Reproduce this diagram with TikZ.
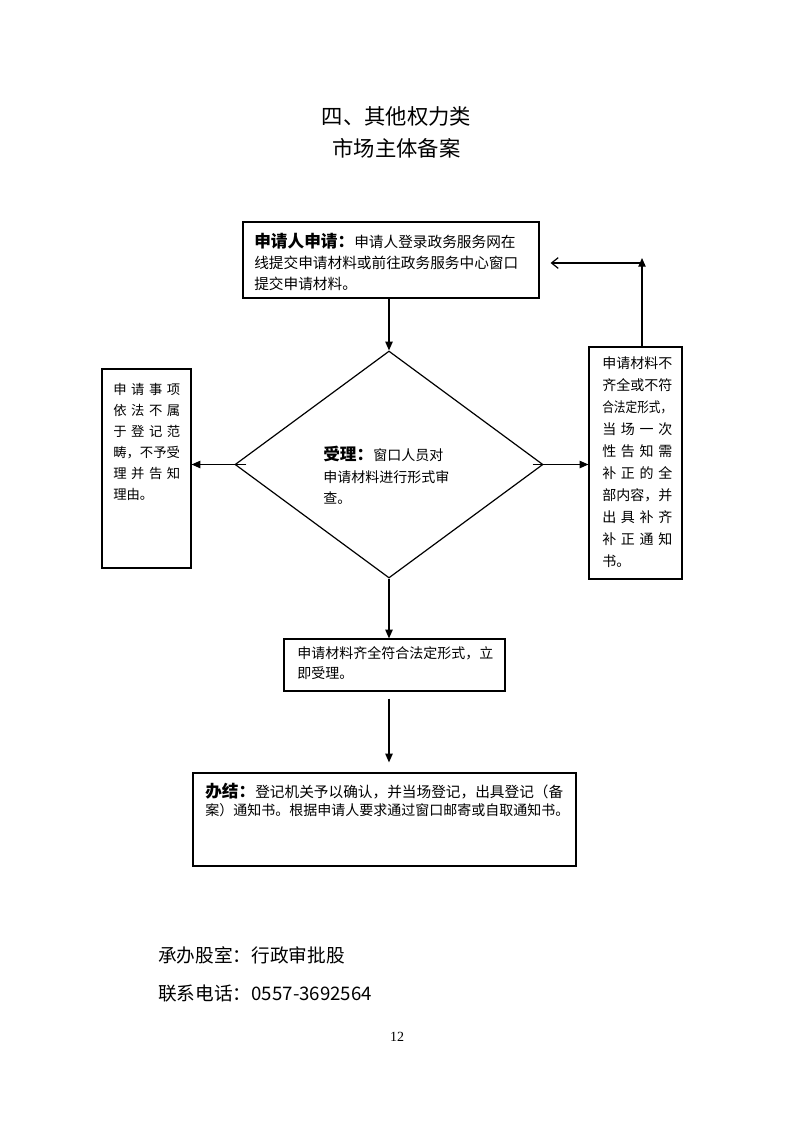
\documentclass[tikz,border=0pt]{standalone}
\usepackage{fontspec}
\setmainfont{Noto Sans CJK SC}
\newfontfamily\numfont{Liberation Serif}
\usepackage{graphicx}
\usetikzlibrary{shapes.geometric,arrows.meta,calc}
\tikzset{
  box/.style={draw,line width=0.9pt,inner sep=0pt},
  txt/.style={anchor=base west,inner sep=0pt},
  arr/.style={line width=0.9pt,-{Triangle[length=6.5pt,width=5.5pt]}},
  openarr/.style={line width=0.9pt,-{Straight Barb[length=5pt,width=8pt]}},
  fa/.style={font=\fontsize{10.5}{12}\selectfont},
  fb/.style={font=\fontsize{11}{13}\selectfont},
  fc/.style={font=\fontsize{10}{12}\selectfont},
}
\newcommand{\lbl}[1]{{\bfseries\fontsize{12.5}{15}\selectfont #1}}
\begin{document}
\begin{tikzpicture}[x=0.75pt,y=-0.75pt]
\useasboundingbox (0,0) rectangle (793,1122);
% titles
\node[anchor=base,inner sep=0pt,font=\fontsize{16}{20}\selectfont] (title1) at (396.5,124) {四、其他权力类};
\node[anchor=base,inner sep=0pt,font=\fontsize{16}{20}\selectfont] (title2) at (396.5,156) {市场主体备案};
% boxes
\node[box,minimum width=222pt,minimum height=57pt] (top) at (391,260) {};
\node[box,diamond,minimum width=231pt,minimum height=170.25pt] (dia) at (389,464.5) {};
\node[box,minimum width=66.75pt,minimum height=149.25pt] (left) at (146.5,468.5) {};
\node[box,minimum width=69.75pt,minimum height=174pt] (right) at (635.5,463) {};
\node[box,minimum width=165.75pt,minimum height=39pt] (mid) at (394.5,665) {};
\node[box,minimum width=287.25pt,minimum height=69.75pt] (fin) at (384.5,819.5) {};
% top box text
\node[txt,fb] (top1) at (254,247) {\lbl{申请人申请：}申请人登录政务服务网在};
\node[txt,fb] (top2) at (254,268) {线提交申请材料或前往政务服务中心窗口};
\node[txt,fb] (top3) at (254,289) {提交申请材料。};
% diamond text
\node[txt,fa] (d1) at (323,460) {\lbl{受理：}窗口人员对};
\node[txt,fa] (d2) at (323,482) {申请材料进行形式审};
\node[txt,fa] (d3) at (323,503) {查。};
% left box text
\foreach \s [count=\i] in {{申 请 事 项},{依 法 不 属},{于 登 记 范},{畴，不予受},{理 并 告 知}}
  \node[txt,fc] (L\i) at (113,{394+21*(\i-1)}) {\makebox[50.25pt][s]{\s}};
\node[txt,fc] (L6) at (113,499) {理由。};
% right box text
\foreach \s [count=\i] in {{申请材料不},{齐全或不符},{\scalebox{0.833}[1]{合法定形式，}},{当 场 一 次},{性 告 知 需},{补 正 的 全},{部内容，并},{出 具 补 齐},{补 正 通 知}}
  \node[txt,fa] (R\i) at (602,{368+22*(\i-1)}) {\makebox[52.5pt][s]{\s}};
\node[txt,fa] (R10) at (602,566) {书。};
% middle box text
\node[txt,fa] (m1) at (297,658) {申请材料齐全符合法定形式，立};
\node[txt,fa] (m2) at (297,678) {即受理。};
% final box text
\node[txt,fb] (f1) at (205,797) {\lbl{办结：}登记机关予以确认，并当场登记，出具登记（备};
\node[txt,fa] (f2) at (205,815.5) {案）通知书。根据申请人要求通过窗口邮寄或自取通知书。};
% footer
\node[txt,font=\fontsize{14}{16}\selectfont] (foot1) at (158,962) {承办股室：行政审批股};
\node[txt,font=\fontsize{14}{16}\selectfont] (foot2) at (158,1000) {联系电话：0557-3692564};
\node[anchor=base,inner sep=0pt,font=\numfont\fontsize{10.5}{12}\selectfont] (pg) at (397,1041) {12};
% connectors
\draw[arr] (dia.north |- top.south) -- (dia.north);
\draw[arr] ($(dia.west)+(12,0)$) -- (dia.west -| left.east);
\draw[arr] ($(dia.east)+(-11,0)$) -- (dia.east -| right.west);
\coordinate (up) at (642,258);
\coordinate (turn) at (642,263);
\draw[arr] (right.north -| up) -- (up);
\draw[openarr] (turn) -- ($(top.east |- turn)+(11,0)$);
\draw[arr] (dia.south) -- (dia.south |- mid.north);
\draw[arr] ($(dia.south |- mid.south)+(0,7)$) -- ($(dia.south |- fin.north)+(0,-10)$);
\end{tikzpicture}
\end{document}
